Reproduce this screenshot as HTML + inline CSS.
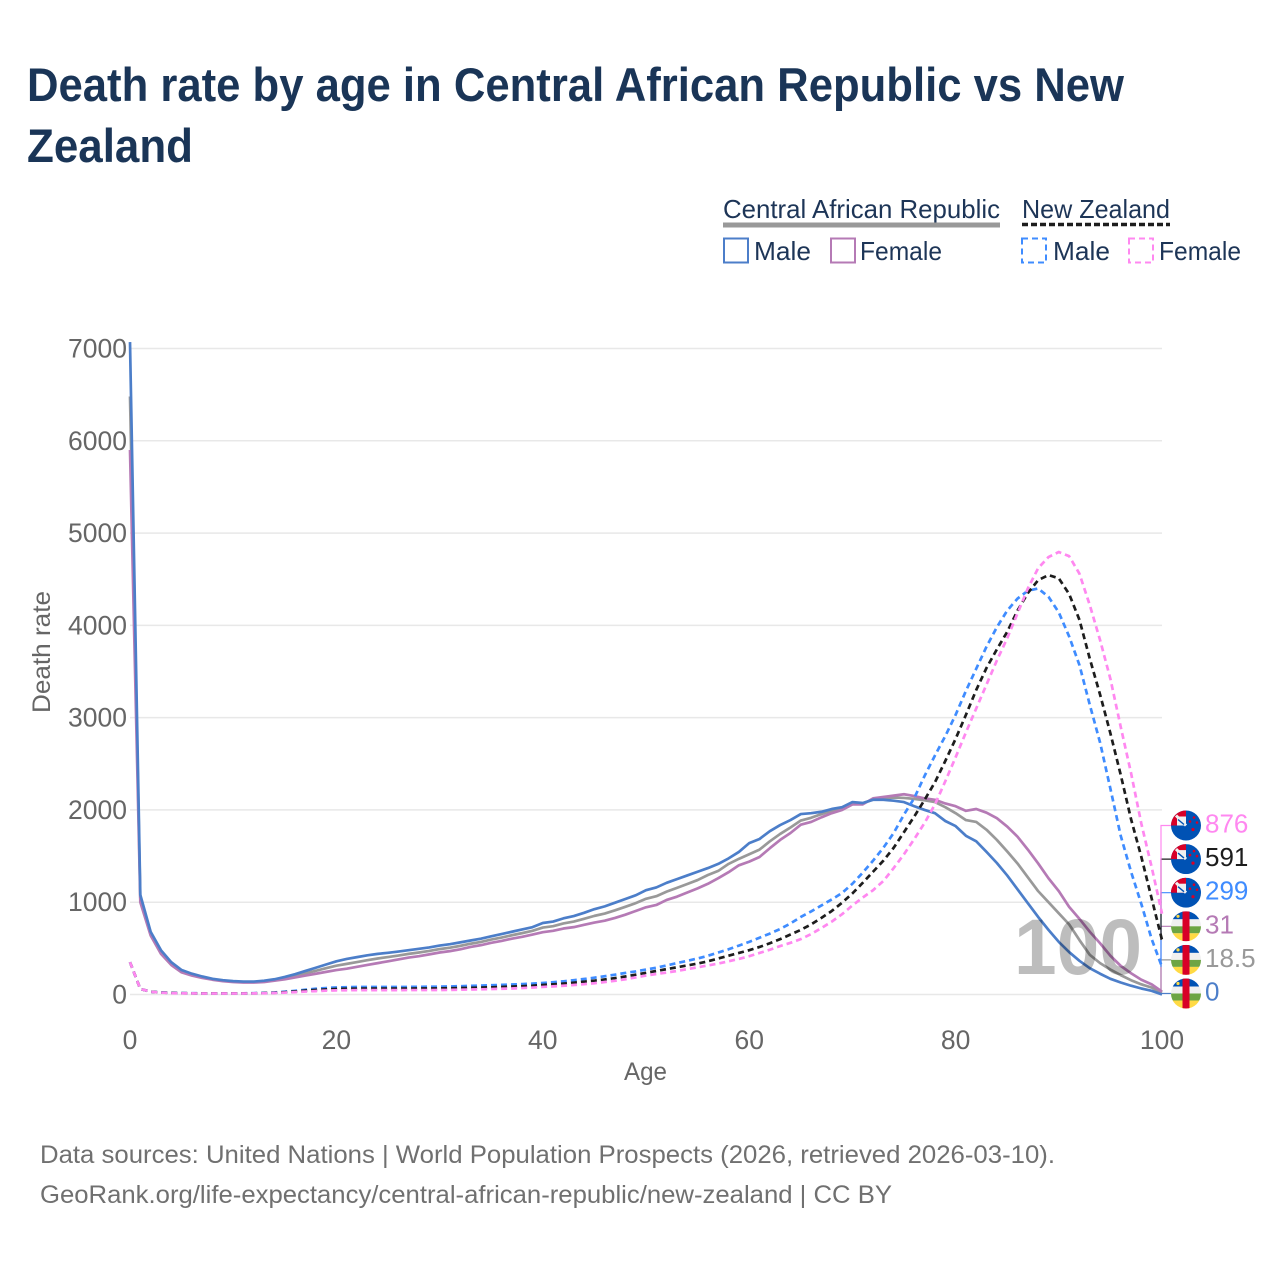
<!DOCTYPE html>
<html lang="en">
<head>
<meta charset="utf-8">
<title>Death rate by age in Central African Republic vs New Zealand</title>
<style>
html,body{margin:0;padding:0;background:#fff;width:1280px;height:1280px;overflow:hidden}
svg{display:block}
text{font-family:"Liberation Sans",sans-serif}
.legend{font-size:26px;fill:#1d3557}
.axis{font-size:25px;fill:#666}
.tick{font-size:26.5px;fill:#666}
.foot{font-size:25px;fill:#707070}
</style>
</head>
<body>
<svg id="chart" xmlns="http://www.w3.org/2000/svg" width="1280" height="1280" viewBox="0 0 1280 1280">
  <defs>
    <clipPath id="flag-clip"><circle cx="0" cy="0" r="15"/></clipPath>
    <g id="flag-nz" clip-path="url(#flag-clip)">
      <rect x="-15" y="-15" width="30" height="30" fill="#0052b4"/>
      <rect x="-15" y="-15" width="15" height="15" fill="#d80027"/>
      <rect x="-9" y="-9" width="9" height="9" fill="#f0f0f0"/>
      <path d="M-10-10 L0 0" stroke="#f0f0f0" stroke-width="3" fill="none"/>
      <path d="M-8-6 L-2-1" stroke="#0052b4" stroke-width="1.4" fill="none"/>
      <circle cx="4" cy="-4" r="1.3" fill="#d80027"/>
      <circle cx="8" cy="-8" r="1.3" fill="#d80027"/>
      <circle cx="11" cy="-3" r="1.3" fill="#d80027"/>
      <circle cx="7" cy="4" r="1.6" fill="#d80027"/>
    </g>
    <g id="flag-caf" clip-path="url(#flag-clip)">
      <rect x="-15" y="-15" width="30" height="8" fill="#0052b4"/>
      <rect x="-15" y="-7" width="30" height="7" fill="#f0f0f0"/>
      <rect x="-15" y="0" width="30" height="7" fill="#6da544"/>
      <rect x="-15" y="7" width="30" height="8" fill="#ffda44"/>
      <rect x="-3.5" y="-15" width="7" height="30" fill="#d80027"/>
      <circle cx="-8" cy="-10" r="1.6" fill="#ffda44"/>
    </g>
  </defs>

  <g id="title">
    <text x="27" y="101" font-size="47" font-weight="700" fill="#1a3557" textLength="1097" lengthAdjust="spacingAndGlyphs">Death rate by age in Central African Republic vs New</text>
    <text x="27" y="162" font-size="47" font-weight="700" fill="#1a3557" textLength="166" lengthAdjust="spacingAndGlyphs">Zealand</text>
  </g>

  <g>
    <g>
      <text class="legend" x="723" y="218" textLength="277" lengthAdjust="spacingAndGlyphs">Central African Republic</text>
      <rect x="723" y="222.5" width="277" height="5" fill="#999"/>
    </g>
    <g>
      <text class="legend" x="1022" y="218" textLength="148" lengthAdjust="spacingAndGlyphs">New Zealand</text>
      <line x1="1022" x2="1170" y1="224.5" y2="224.5" stroke="#1d1d1d" stroke-width="3.5" stroke-dasharray="6 3"/>
    </g>
    <g>
      <rect x="724" y="238.5" width="24" height="24" fill="none" stroke="#4c7ec9" stroke-width="2"/>
      <text class="legend" x="754" y="260" textLength="57" lengthAdjust="spacingAndGlyphs">Male</text>
    </g>
    <g>
      <rect x="831" y="238.5" width="24" height="24" fill="none" stroke="#b57ab5" stroke-width="2"/>
      <text class="legend" x="860" y="260" textLength="82" lengthAdjust="spacingAndGlyphs">Female</text>
    </g>
    <g>
      <rect x="1022" y="238.5" width="24" height="24" fill="none" stroke="#3f8cff" stroke-width="2" stroke-dasharray="6 4"/>
      <text class="legend" x="1053" y="260" textLength="57" lengthAdjust="spacingAndGlyphs">Male</text>
    </g>
    <g>
      <rect x="1129" y="238.5" width="24" height="24" fill="none" stroke="#ff88f0" stroke-width="2" stroke-dasharray="6 4"/>
      <text class="legend" x="1159" y="260" textLength="82" lengthAdjust="spacingAndGlyphs">Female</text>
    </g>
  </g>

  <g id="grid"></g>
  <g id="y-axis"></g>
  <g id="x-axis"></g>
  <text class="axis" x="645.5" y="1080" text-anchor="middle" textLength="43" lengthAdjust="spacingAndGlyphs">Age</text>
  <text class="axis" transform="translate(50 652) rotate(-90)" text-anchor="middle" textLength="122" lengthAdjust="spacingAndGlyphs">Death rate</text>

  <g id="connectors"></g>
  <g id="series"></g>
  <text x="1014" y="974" font-size="79" font-weight="700" fill="#000" fill-opacity="0.26" textLength="128" lengthAdjust="spacingAndGlyphs">100</text>
  <g id="end-labels"></g>

  <g>
    <text class="foot" x="40" y="1163" textLength="1015" lengthAdjust="spacingAndGlyphs">Data sources: United Nations | World Population Prospects (2026, retrieved 2026-03-10).</text>
    <text class="foot" x="40" y="1203" textLength="852" lengthAdjust="spacingAndGlyphs">GeoRank.org/life-expectancy/central-african-republic/new-zealand | CC BY</text>
  </g>
</svg>

<script>
const xTicks = [0, 20, 40, 60, 80, 100];
const yTicks = [0, 1000, 2000, 3000, 4000, 5000, 6000, 7000];

const cafMale = [
  7070,1080,680,480,350,265,225,195,170,155,
  145,140,140,150,165,190,220,255,290,325,
  360,385,405,425,440,452,465,480,495,510,
  530,545,565,585,605,630,655,680,705,730,
  775,790,825,850,885,925,955,995,1035,1075,
  1130,1160,1210,1250,1290,1330,1370,1415,1475,1545,
  1640,1685,1770,1836,1890,1955,1965,1980,2010,2030,
  2085,2075,2110,2110,2100,2085,2040,2000,1965,1880,
  1825,1720,1660,1545,1425,1290,1140,990,840,700,
  570,460,365,285,225,170,130,95,65,40,
  0];
const cafAll = [
  6480,1040,660,460,335,252,215,187,165,150,
  140,135,135,142,157,177,202,230,257,285,
  312,332,352,372,390,406,422,440,455,472,
  492,507,527,550,570,595,617,642,665,690,
  725,740,770,790,820,852,877,912,950,990,
  1037,1065,1115,1155,1197,1240,1295,1339,1415,1470,
  1520,1570,1660,1740,1810,1885,1915,1955,1990,2020,
  2070,2070,2115,2125,2135,2130,2120,2105,2085,2030,
  1965,1890,1870,1785,1675,1550,1420,1270,1120,1000,
  880,760,590,430,340,270,210,155,110,75,
  18.5];
const cafFemale = [
  5900,1000,640,440,320,240,205,180,160,145,
  135,130,130,135,150,165,185,205,225,245,
  265,280,300,320,340,360,380,400,415,435,
  455,470,490,515,535,560,580,605,625,650,
  675,690,715,730,755,780,800,830,865,905,
  945,970,1025,1060,1105,1150,1200,1260,1325,1400,
  1440,1490,1585,1675,1750,1840,1870,1920,1965,2000,
  2060,2060,2125,2140,2155,2170,2150,2125,2110,2070,
  2040,1990,2010,1970,1910,1820,1710,1570,1420,1260,
  1120,950,820,680,555,420,310,230,160,110,
  31];
const nzMale = [
  350,60,30,22,18,15,14,13,13,13,
  13,13,14,17,22,30,40,52,62,70,
  76,79,81,82,82,82,82,82,83,84,
  85,87,90,93,97,100,104,108,113,118,
  125,133,143,155,168,182,198,215,234,250,
  270,290,315,340,365,390,420,455,490,530,
  570,615,660,710,770,840,900,965,1030,1100,
  1200,1320,1450,1590,1750,1950,2130,2370,2590,2800,
  3030,3290,3530,3770,3980,4160,4290,4375,4400,4310,
  4140,3880,3570,3140,2730,2230,1720,1330,980,600,
  299];
const nzAll = [
  350,60,30,21,17,14,13,12,12,12,
  12,12,13,15,19,25,33,42,49,55,
  60,62,63,64,64,64,64,64,65,65,
  66,68,70,72,75,78,82,86,90,95,
  103,110,118,128,139,150,163,178,195,215,
  235,255,275,295,315,335,360,390,420,450,
  480,515,555,600,650,700,760,830,905,995,
  1095,1210,1330,1450,1590,1760,1930,2110,2300,2530,
  2770,3030,3300,3540,3740,3930,4160,4350,4490,4545,
  4510,4340,4060,3640,3250,2830,2380,1900,1490,1040,
  591];
const nzFemale = [
  350,60,30,20,15,13,12,11,11,11,
  11,11,12,13,16,20,26,32,37,42,
  45,46,47,47,47,47,47,48,48,48,
  49,50,52,54,56,59,62,65,70,75,
  82,88,95,103,112,122,135,148,165,185,
  205,222,238,255,275,295,315,335,360,385,
  415,450,485,525,560,600,655,720,790,870,
  965,1050,1130,1230,1370,1520,1685,1860,2060,2310,
  2570,2840,3100,3360,3620,3860,4130,4400,4620,4740,
  4795,4750,4560,4220,3840,3420,2900,2400,1850,1380,
  876];

const SVG_NS = 'http://www.w3.org/2000/svg';
const X0 = 130, X1 = 1162, Y0 = 994.5, Y7000 = 348.5;
function xScale(age) { return X0 + (X1 - X0) * age / 100; }
function yScale(v) { return Y0 - (Y0 - Y7000) * v / 7000; }
function make(tag, attrs, parent) {
  const el = document.createElementNS(SVG_NS, tag);
  for (const k in attrs) el.setAttribute(k, attrs[k]);
  parent.appendChild(el);
  return el;
}

const grid = document.getElementById('grid');
const yAxis = document.getElementById('y-axis');
const xAxis = document.getElementById('x-axis');

yTicks.forEach(function (t) {
  const line = make('line', {x1: X0, x2: X1, y1: yScale(t), y2: yScale(t), stroke: '#e8e8e8', 'stroke-width': 1.5}, grid);
  
  
  const label = make('text', {x: 127, y: yScale(t) + 9, 'text-anchor': 'end', class: 'tick'}, yAxis);
  
  
  label.textContent = t;
});
xTicks.forEach(function (t) {
  const label = make('text', {x: xScale(t), y: 1049, 'text-anchor': 'middle', class: 'tick'}, xAxis);
  
  
  label.textContent = t;
});

const seriesRows = [
  {key: 'caf-all', values: cafAll, color: '#999999', dash: '', flag: 'flag-caf'},
  {key: 'caf-female', values: cafFemale, color: '#b57ab5', dash: '', flag: 'flag-caf'},
  {key: 'caf-male', values: cafMale, color: '#4c7ec9', dash: '', flag: 'flag-caf'},
  {key: 'nz-male', values: nzMale, color: '#3f8cff', dash: '6 4', flag: 'flag-nz'},
  {key: 'nz-all', values: nzAll, color: '#1d1d1d', dash: '6 4', flag: 'flag-nz'},
  {key: 'nz-female', values: nzFemale, color: '#ff88f0', dash: '6 4', flag: 'flag-nz'}
];

const seriesGroup = document.getElementById('series');
seriesRows.forEach(function (s) {
  const pts = s.values.map(function (v, age) {
    return xScale(age).toFixed(2) + ',' + yScale(v).toFixed(2);
  }).join(' ');
  const line = make('polyline', {points: pts, fill: 'none', stroke: s.color, 'stroke-width': 2.7, 'stroke-linejoin': 'round'}, seriesGroup);
  if (s.dash) line.setAttribute('stroke-dasharray', s.dash);
  
  
});

const connectors = document.getElementById('connectors');
const endLabels = document.getElementById('end-labels');
const byEnd = seriesRows.slice().sort(function (a, b) {
  return a.values[100] - b.values[100];
});
byEnd.forEach(function (s, i) {
  const endV = s.values[100];
  const slotY = 993.5 - i * 33.6;
  const link = make('path', {
    d: 'M' + (X1 - 1) + ' ' + yScale(endV).toFixed(2) + ' L' + (X1 - 1) + ' ' + slotY + ' L' + (X1 + 10) + ' ' + slotY,
    fill: 'none', stroke: s.color, 'stroke-width': 1.2
  }, connectors);
  
  

  const flag = make('use', {href: '#' + s.flag, transform: 'translate(1186 ' + slotY + ')'}, endLabels);
  
  

  const label = make('text', {x: 1205, y: slotY + 7, 'font-size': 26, fill: s.color}, endLabels);
  
  
  label.textContent = endV;
});
</script>
</body>
</html>
